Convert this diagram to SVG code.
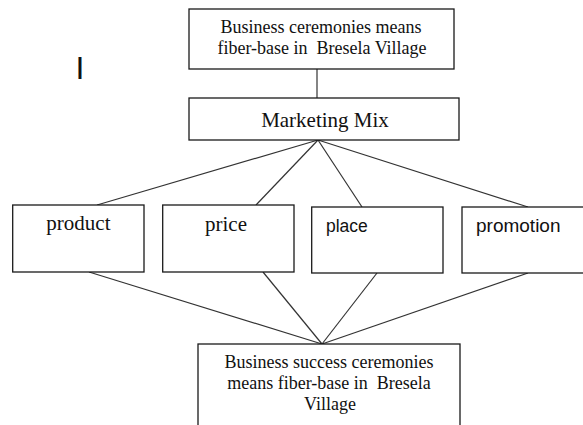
<svg xmlns="http://www.w3.org/2000/svg" width="583" height="425" viewBox="0 0 583 425">
<style>
.box{fill:#fff;stroke:#1a1a1a;stroke-width:1.3}
.ser{font-family:"Liberation Serif","Times New Roman",serif;fill:#111;white-space:pre}
.san{font-family:"Liberation Sans",Arial,sans-serif;fill:#111}
.con line{stroke:#333;stroke-width:1.2}
</style>
<rect width="583" height="425" fill="#fff"/>
<g class="con" id="connectors">
<line x1="317" y1="69" x2="317" y2="98"/>
<line x1="318" y1="140" x2="97" y2="205"/>
<line x1="318" y1="140" x2="256" y2="205"/>
<line x1="318" y1="140" x2="362" y2="207"/>
<line x1="318" y1="140" x2="528" y2="207"/>
<line x1="89" y1="272" x2="322" y2="344"/>
<line x1="263" y1="272" x2="322" y2="344"/>
<line x1="377" y1="273" x2="322" y2="344"/>
<line x1="528" y1="273" x2="322" y2="344"/>
</g>
<g id="top">
<rect class="box" x="189" y="9" width="265" height="60"/>
<text class="ser" font-size="18" text-anchor="middle" x="321" y="33">Business ceremonies means</text>
<text class="ser" font-size="18" text-anchor="middle" x="322" y="54">fiber-base in  Bresela Village</text>
</g>
<text class="san" font-size="32" x="75.6" y="79">I</text>
<g id="mix">
<rect class="box" x="189" y="98" width="270" height="42"/>
<text class="ser" font-size="21" text-anchor="middle" x="325" y="127">Marketing Mix</text>
</g>
<g id="product">
<rect class="box" x="12.7" y="205" width="131.3" height="67"/>
<text class="ser" font-size="21" text-anchor="middle" x="78.4" y="230">product</text>
</g>
<g id="price">
<rect class="box" x="162.7" y="205" width="131.3" height="67"/>
<text class="ser" font-size="21" text-anchor="middle" x="226" y="230.5">price</text>
</g>
<g id="place">
<rect class="box" x="311.7" y="207" width="131.3" height="66"/>
<text class="san" font-size="17.5" x="326" y="231.5">place</text>
</g>
<g id="promotion">
<rect class="box" x="462" y="207" width="125" height="66"/>
<text class="san" font-size="19" x="476" y="232">promotion</text>
</g>
<g id="bottom">
<rect class="box" x="198" y="344" width="262" height="90"/>
<text class="ser" font-size="18" text-anchor="middle" x="329" y="368">Business success ceremonies</text>
<text class="ser" font-size="18" text-anchor="middle" x="329" y="389">means fiber-base in  Bresela</text>
<text class="ser" font-size="18" text-anchor="middle" x="330" y="410">Village</text>
</g>
</svg>
